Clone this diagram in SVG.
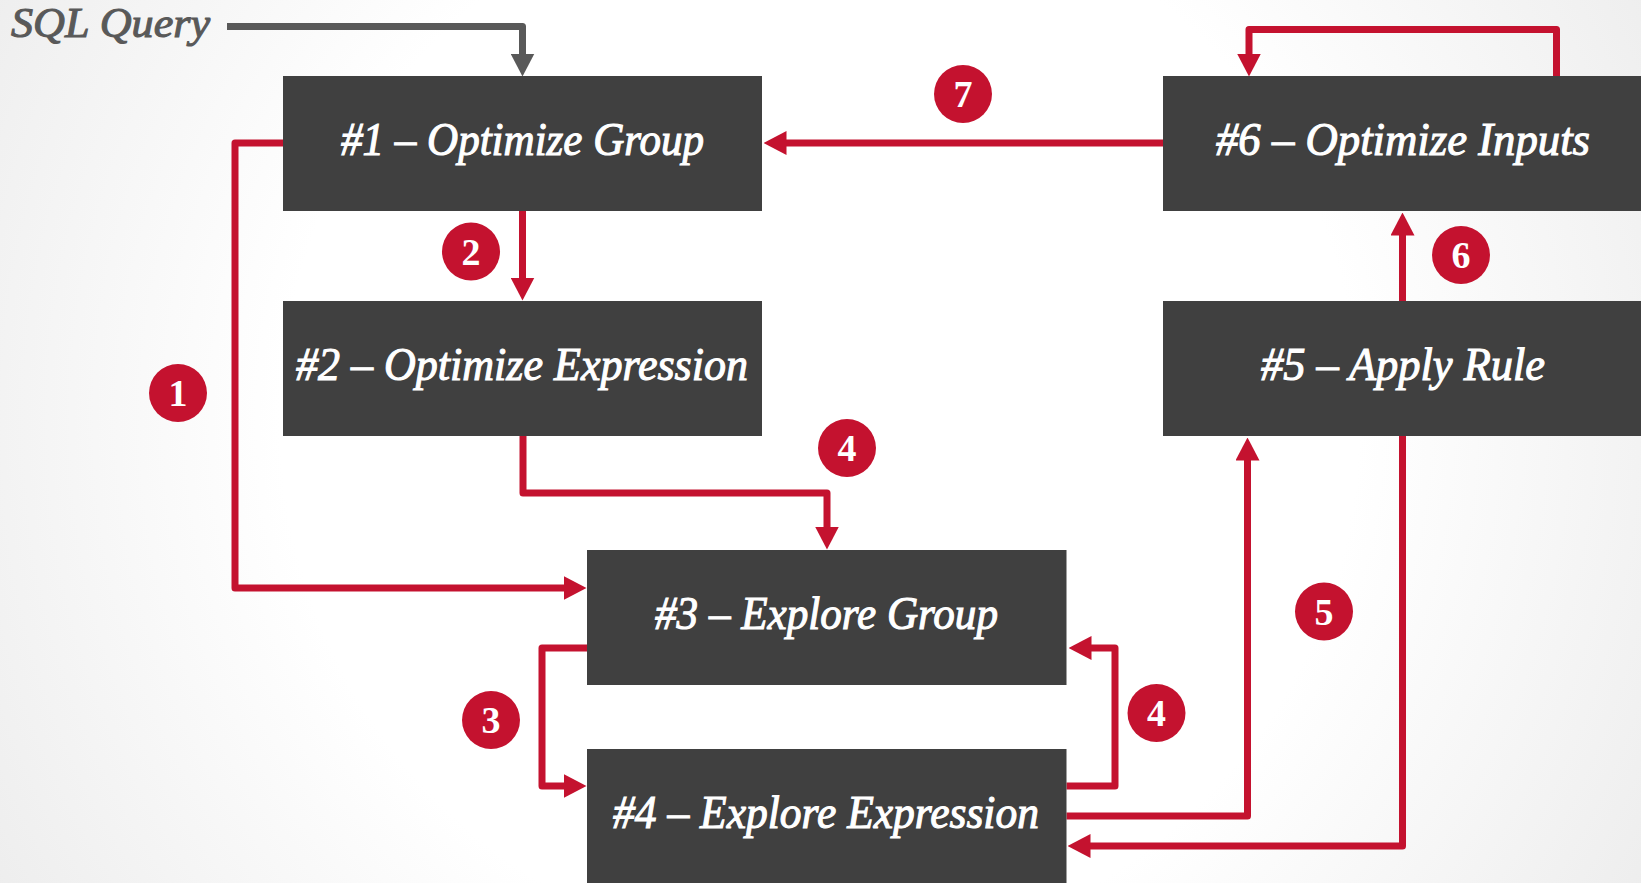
<svg xmlns="http://www.w3.org/2000/svg" width="1641" height="883" viewBox="0 0 1641 883">
  <defs>
    <radialGradient id="bg" cx="820" cy="420" r="980" gradientUnits="userSpaceOnUse">
      <stop offset="0" stop-color="#ffffff"/>
      <stop offset="0.55" stop-color="#ffffff"/>
      <stop offset="1" stop-color="#ececec"/>
    </radialGradient>
    <marker id="arrowRed" viewBox="0 0 23 24" refX="0.5" refY="12" markerWidth="23" markerHeight="24" markerUnits="userSpaceOnUse" orient="auto">
      <path d="M0,0 L23,12 L0,24 Z" fill="#c4122f"/>
    </marker>
    <marker id="arrowGray" viewBox="0 0 23 24" refX="0.5" refY="12" markerWidth="23" markerHeight="24" markerUnits="userSpaceOnUse" orient="auto">
      <path d="M0,0 L23,12 L0,24 Z" fill="#595959"/>
    </marker>
    <style>
      .box { fill: #404040; }
      .label { font-family: "Liberation Serif", "Times New Roman", serif; font-style: italic; font-size: 46px; fill: #ffffff; stroke: #ffffff; stroke-width: 1.1; }
      .link { fill: none; stroke: #c4122f; stroke-width: 7; stroke-linejoin: round; marker-end: url(#arrowRed); }
      .query-link { fill: none; stroke: #595959; stroke-width: 7; stroke-linejoin: round; marker-end: url(#arrowGray); }
      .badge circle { fill: #c4122f; }
      .badge text { font-family: "Liberation Serif", "Times New Roman", serif; font-weight: bold; font-size: 38px; fill: #ffffff; text-anchor: middle; }
      .query { font-family: "Liberation Serif", "Times New Roman", serif; font-style: italic; font-size: 43px; fill: #595959; stroke: #595959; stroke-width: 1.1; }
    </style>
  </defs>

  <rect x="0" y="0" width="1641" height="883" fill="url(#bg)"/>

  <!-- entry point -->
  <g id="sql-query">
    <text class="query" x="11" y="37" textLength="199" lengthAdjust="spacingAndGlyphs">SQL Query</text>
  </g>

  <!-- connectors -->
  <g id="connectors">
    <path class="query-link" d="M227,26.5 H522.5 V54"/>
    <path class="link" d="M283,143 H235 V588 H564"/>
    <path class="link" d="M522.5,211 V278"/>
    <path class="link" d="M523,435 V493 H827 V527"/>
    <path class="link" d="M587,648 H542 V786 H564"/>
    <path class="link" d="M1066.5,786 H1115 V648 H1091"/>
    <path class="link" d="M1066.5,816 H1247.5 V460"/>
    <path class="link" d="M1402.5,436 V846 H1090"/>
    <path class="link" d="M1402.5,301 V235"/>
    <path class="link" d="M1163,143 H786"/>
    <path class="link" d="M1556.5,77 V29.5 H1249 V54"/>
  </g>

  <!-- tasks -->
  <g id="optimize-group">
    <rect class="box" x="283" y="76" width="479" height="135"/>
    <text class="label" x="341" y="155" textLength="363" lengthAdjust="spacingAndGlyphs">#1 – Optimize Group</text>
  </g>
  <g id="optimize-expression">
    <rect class="box" x="283" y="301" width="479" height="135"/>
    <text class="label" x="296" y="379.5" textLength="452" lengthAdjust="spacingAndGlyphs">#2 – Optimize Expression</text>
  </g>
  <g id="explore-group">
    <rect class="box" x="587" y="550" width="479.5" height="135"/>
    <text class="label" x="655" y="628.5" textLength="343" lengthAdjust="spacingAndGlyphs">#3 – Explore Group</text>
  </g>
  <g id="explore-expression">
    <rect class="box" x="587" y="749" width="479.5" height="140"/>
    <text class="label" x="613" y="827.5" textLength="426" lengthAdjust="spacingAndGlyphs">#4 – Explore Expression</text>
  </g>
  <g id="apply-rule">
    <rect class="box" x="1163" y="301" width="480" height="135"/>
    <text class="label" x="1261" y="379.5" textLength="284" lengthAdjust="spacingAndGlyphs">#5 – Apply Rule</text>
  </g>
  <g id="optimize-inputs">
    <rect class="box" x="1163" y="76" width="480" height="135"/>
    <text class="label" x="1216" y="155" textLength="374" lengthAdjust="spacingAndGlyphs">#6 – Optimize Inputs</text>
  </g>

  <!-- step numbers -->
  <g id="step-1" class="badge"><circle cx="178" cy="393" r="29"/><text x="178" y="406">1</text></g>
  <g id="step-2" class="badge"><circle cx="471" cy="251.5" r="29"/><text x="471" y="264.5">2</text></g>
  <g id="step-3" class="badge"><circle cx="491" cy="720" r="29"/><text x="491" y="733">3</text></g>
  <g id="step-4a" class="badge"><circle cx="847" cy="448" r="29"/><text x="847" y="461">4</text></g>
  <g id="step-4b" class="badge"><circle cx="1156.5" cy="713" r="29"/><text x="1156.5" y="726">4</text></g>
  <g id="step-5" class="badge"><circle cx="1324" cy="611.5" r="29"/><text x="1324" y="624.5">5</text></g>
  <g id="step-6" class="badge"><circle cx="1461" cy="255" r="29"/><text x="1461" y="268">6</text></g>
  <g id="step-7" class="badge"><circle cx="963" cy="94" r="29"/><text x="963" y="107">7</text></g>
</svg>
